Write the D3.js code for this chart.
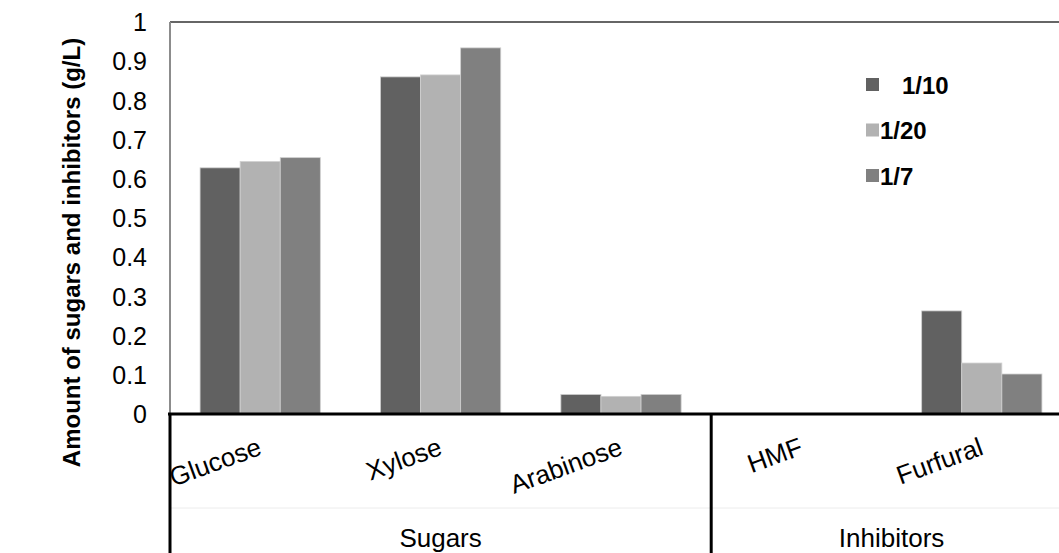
<!DOCTYPE html>
<html>
<head>
<meta charset="utf-8">
<script src="https://cdn.jsdelivr.net/npm/d3@7"></script>
<style>
  html, body { margin: 0; padding: 0; background: #fff; }
  svg { display: block; font-family: "Liberation Sans", Arial, sans-serif; }
</style>
</head>
<body>
<svg id="chart" width="1059" height="553"></svg>
<script>
const categories = ["Glucose", "Xylose", "Arabinose", "HMF", "Furfural"];
const groups = ["Sugars", "Sugars", "Sugars", "Inhibitors", "Inhibitors"];
const seriesNames = ["1/10", "1/20", "1/7"];
const seriesColors = ["#616161", "#b2b2b2", "#808080"];
const s1_10 = [0.628, 0.860, 0.050, 0, 0.263];
const s1_20 = [0.644, 0.865, 0.045, 0, 0.130];
const s1_7  = [0.654, 0.934, 0.050, 0, 0.102];
const yTicks = [0, 0.1, 0.2, 0.3, 0.4, 0.5, 0.6, 0.7, 0.8, 0.9, 1];
const yTitle = "Amount of sugars and inhibitors (g/L)";

const seriesValues = [s1_10, s1_20, s1_7];
const svg = d3.select("#chart");

const plotLeft = 170, plotTop = 22, plotBottom = 414, plotRightBand = 1072;

const y = d3.scaleLinear().domain([0, 1]).range([plotBottom, plotTop]);
const x = d3.scaleBand().domain(categories).range([plotLeft, plotRightBand])
  .paddingInner(1/3).paddingOuter(1/6);
const xs = d3.scaleBand().domain(seriesNames).range([0, x.bandwidth()]);

// top border
svg.append("line").attr("x1", plotLeft).attr("x2", 1059)
  .attr("y1", plotTop).attr("y2", plotTop)
  .attr("stroke", "#333").attr("stroke-width", 1.5);

// y axis line
svg.append("line").attr("x1", plotLeft).attr("x2", plotLeft)
  .attr("y1", plotTop).attr("y2", plotBottom)
  .attr("stroke", "#8c8c8c").attr("stroke-width", 2);

// y tick labels
const yAxis = d3.axisLeft(y).tickValues(yTicks).tickSize(0).tickPadding(0)
  .tickFormat(d => d3.format("~g")(d));
const yg = svg.append("g").attr("transform", `translate(147,0)`).call(yAxis);
yg.select(".domain").remove();
yg.selectAll("text").attr("font-size", 25).attr("fill", "#000")
  .attr("font-family", "Liberation Sans, Arial, sans-serif").attr("dy", "0.35em");

// y title
svg.append("text")
  .attr("transform", `translate(80,${(40 + 465) / 2}) rotate(-90)`)
  .attr("text-anchor", "middle")
  .attr("font-size", 24).attr("font-weight", "bold")
  .text(yTitle);

// bars
const barG = svg.append("g");
seriesNames.forEach((name, si) => {
  barG.selectAll(null).data(categories).join("rect")
    .attr("x", c => x(c) + xs(name))
    .attr("width", xs.bandwidth())
    .attr("y", (c, ci) => y(seriesValues[si][ci]))
    .attr("height", (c, ci) => y(0) - y(seriesValues[si][ci]))
    .attr("fill", seriesColors[si])
    .attr("stroke", "#d0d0d0").attr("stroke-width", 0.8)
    .attr("display", (c, ci) => seriesValues[si][ci] > 0 ? null : "none");
});

// x axis baseline
svg.append("line").attr("x1", plotLeft - 2).attr("x2", 1059)
  .attr("y1", plotBottom).attr("y2", plotBottom)
  .attr("stroke", "#000").attr("stroke-width", 3);

// group boundaries
const groupNames = Array.from(new Set(groups));
const groupExtents = groupNames.map(g => {
  const cats = categories.filter((c, i) => groups[i] === g);
  const x0 = x(cats[0]) - x.step() * x.paddingInner() / 2;
  const x1 = x(cats[cats.length - 1]) + x.bandwidth() + x.step() * x.paddingInner() / 2;
  return { name: g, x0, x1 };
});
// faint level separator
svg.append("line").attr("x1", plotLeft).attr("x2", 1059)
  .attr("y1", 508).attr("y2", 508)
  .attr("stroke", "#ececec").attr("stroke-width", 1);
const bounds = [groupExtents[0].x0, ...groupExtents.slice(0, -1).map(g => g.x1)];
svg.selectAll(null).data(bounds).join("line")
  .attr("x1", d => d).attr("x2", d => d)
  .attr("y1", plotBottom).attr("y2", 553)
  .attr("stroke", "#000").attr("stroke-width", 3);

// category labels
svg.selectAll(null).data(categories).join("text")
  .attr("transform", c => `translate(${x(c) + x.bandwidth() / 2 + 3},454) rotate(-20)`)
  .attr("text-anchor", "end")
  .attr("font-size", 26)
  .text(c => c);

// group labels
svg.selectAll(null).data(groupExtents).join("text")
  .attr("x", g => (g.x0 + Math.min(g.x1, 1072)) / 2)
  .attr("y", 547)
  .attr("text-anchor", "middle")
  .attr("font-size", 26)
  .text(g => g.name);

// legend
const lg = svg.append("g");
seriesNames.forEach((name, i) => {
  const cy = 85 + i * 45.5;
  lg.append("rect").attr("x", 866).attr("y", cy - 7).attr("width", 13).attr("height", 13)
    .attr("fill", seriesColors[i]);
  lg.append("text").attr("x", i === 0 ? 902 : 880).attr("y", cy).attr("dy", "0.36em")
    .attr("font-size", 24).attr("font-weight", "bold")
    .text(name);
});
</script>
</body>
</html>
